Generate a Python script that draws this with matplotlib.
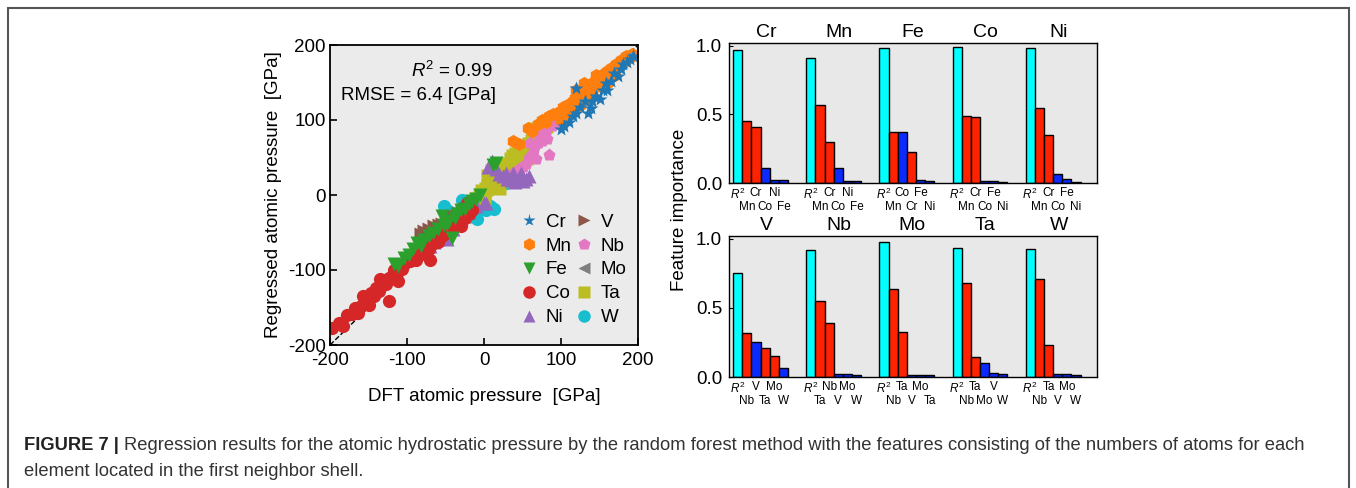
import numpy as np
import matplotlib
matplotlib.use("Agg")
import matplotlib.pyplot as plt
from matplotlib.patches import Rectangle

plt.rcParams['font.family'] = ['Liberation Sans', 'DejaVu Sans']
plt.rcParams['mathtext.fontset'] = 'custom'
plt.rcParams['mathtext.rm'] = 'Liberation Sans'
plt.rcParams['mathtext.it'] = 'Liberation Sans:italic'
plt.rcParams['axes.unicode_minus'] = False

# ---------------- scatter data (DFT, regressed) ----------------
elements = ['Cr', 'Mn', 'Fe', 'Co', 'Ni', 'V', 'Nb', 'Mo', 'Ta', 'W']
markers = ['*', 'h', 'v', 'o', '^', '>', 'p', '<', 's', 'o']

cr_pts = [(100, 88), (104, 92), (110, 97), (120, 110), (125, 118), (131, 125), (135, 110),
          (139, 116), (146, 132), (150, 128), (155, 140), (159, 150), (165, 152), (169, 163),
          (174, 159), (178, 168), (181, 175), (186, 178), (190, 182), (194, 186), (120, 143),
          (115, 105), (140, 125), (160, 140)]
mn_pts = [(38, 72), (45, 68), (57, 90), (62, 85), (70, 95), (75, 100), (80, 98), (85, 105),
          (90, 108), (95, 110), (100, 112), (103, 118), (108, 120), (112, 115), (115, 125),
          (118, 130), (122, 128), (125, 135), (128, 140), (132, 138), (135, 145), (138, 148),
          (142, 150), (145, 155), (148, 152), (152, 158), (155, 162), (158, 160), (160, 165),
          (163, 158), (165, 170), (168, 168), (172, 175), (175, 172), (178, 180), (182, 178),
          (185, 185), (188, 183), (192, 188), (140, 138), (150, 145), (160, 150), (120, 140),
          (130, 150), (100, 100), (110, 108), (170, 160), (155, 148), (145, 160), (135, 130),
          (125, 120)]
fe_pts = [(-117, -92), (-112, -95), (-104, -84), (-98, -80), (-92, -72), (-87, -64), (-82, -68),
          (-78, -60), (-72, -55), (-66, -50), (-60, -45), (-55, -28), (-52, -40), (-48, -39),
          (-45, -35), (-42, -57), (-38, -30), (-35, -25), (-30, -20), (-25, -18), (-20, -12),
          (-15, -8), (-10, -5), (16, 43), (12, 40), (-5, 0)]
co_pts = [(-197, -177), (-188, -170), (-183, -175), (-178, -160), (-172, -158), (-168, -150),
          (-163, -157), (-160, -148), (-157, -135), (-153, -142), (-150, -138), (-147, -130),
          (-143, -135), (-140, -124), (-137, -128), (-133, -120), (-130, -113), (-127, -118),
          (-124, -110), (-120, -108), (-117, -100), (-113, -104), (-110, -95), (-106, -98),
          (-103, -90), (-100, -86), (-96, -88), (-92, -80), (-88, -84), (-85, -76), (-80, -78),
          (-76, -70), (-72, -72), (-68, -65), (-64, -60), (-60, -62), (-55, -55), (-50, -50),
          (-45, -47), (-40, -42), (-35, -38), (-30, -41), (-25, -30), (-20, -25), (-15, -20),
          (-124, -141), (-150, -147), (-135, -112), (-112, -115), (-88, -86), (-70, -86),
          (-18, -21), (-22, -10)]
ni_pts = [(-80, -72), (-75, -66), (-70, -68), (-65, -62), (-60, -58), (-55, -50), (-48, -59),
          (-45, -48), (-40, -45), (-35, -38), (-30, -30), (-25, -28), (-20, -22), (-10, -15),
          (0, -10), (3, -10), (5, 38), (8, 39), (10, 45), (15, 35), (20, 28), (25, 25), (30, 22),
          (35, 20), (40, 18), (45, 22), (50, 19), (55, 22), (59, 25), (48, 30), (38, 30), (28, 30)]
v_pts = [(-82, -52), (-78, -48), (-75, -55), (-72, -45), (-68, -50), (-65, -41), (-62, -45),
         (-58, -40), (-55, -38), (-52, -42), (-48, -32), (-45, -35), (-42, -30), (-40, -28),
         (-36, -28), (-33, -24), (-31, -26), (-28, -22), (-25, -18), (-22, -17), (-20, -14)]
nb_pts = [(28, 22), (32, 25), (36, 28), (40, 30), (45, 35), (50, 38), (55, 41), (58, 50), (62, 55),
          (65, 62), (68, 48), (70, 70), (72, 79), (75, 72), (78, 80), (80, 85), (82, 75), (85, 54),
          (88, 92), (92, 96), (60, 70), (-55, -40), (-45, -38)]
mo_pts = [(-78, -52), (-74, -50), (-70, -55), (-67, -46), (-63, -48), (-60, -42), (-57, -44),
          (-54, -38), (-50, -40), (-47, -34), (-44, -36), (-40, -30), (-37, -32), (-34, -26),
          (-30, -24), (-27, -22), (-24, -18), (-20, -16), (-16, -12)]
ta_pts = [(-10, -5), (-5, 0), (-2, 5), (0, 3), (3, 8), (5, 12), (8, 15), (10, 20), (12, 25),
          (15, 18), (18, 28), (20, 32), (21, 34), (24, 30), (26, 38), (28, 35), (30, 42), (33, 40),
          (35, 48), (38, 52), (40, 45), (42, 55), (45, 50), (48, 58), (50, 62), (52, 55), (55, 65),
          (58, 68), (60, 60), (62, 72), (65, 75), (68, 88), (70, 78), (72, 82), (75, 85), (78, 90),
          (80, 92), (10, 32), (15, 40), (25, 20), (35, 30), (45, 42), (55, 50), (20, 10), (5, 25),
          (0, -5)]
w_pts = [(-52, -15), (-48, -20), (-29, -6), (-25, -10), (-9, -32), (-7, -15), (-3, -18), (2, -20),
         (8, -14), (10, -17), (13, -18), (29, 16), (25, 25), (20, 10), (-40, -25), (-15, -22),
         (35, 22)]

all_pts = [cr_pts, mn_pts, fe_pts, co_pts, ni_pts, v_pts, nb_pts, mo_pts, ta_pts, w_pts]

r2_text = 0.99
rmse_text = 6.4

# ---------------- feature importance data ----------------
top_titles = ['Cr', 'Mn', 'Fe', 'Co', 'Ni']
top_labels = [['R2', 'Mn', 'Cr', 'Co', 'Ni', 'Fe'],
              ['R2', 'Mn', 'Cr', 'Co', 'Ni', 'Fe'],
              ['R2', 'Mn', 'Co', 'Cr', 'Fe', 'Ni'],
              ['R2', 'Mn', 'Cr', 'Co', 'Fe', 'Ni'],
              ['R2', 'Mn', 'Cr', 'Co', 'Fe', 'Ni']]
top_values = [[0.966, 0.454, 0.410, 0.107, 0.022, 0.022],
              [0.912, 0.571, 0.298, 0.112, 0.012, 0.012],
              [0.980, 0.371, 0.371, 0.224, 0.022, 0.015],
              [0.993, 0.488, 0.480, 0.015, 0.012, 0.007],
              [0.985, 0.546, 0.351, 0.066, 0.029, 0.005]]
top_signs = [['r', '+', '+', '-', '-', '-'],
             ['r', '+', '+', '-', '-', '-'],
             ['r', '+', '-', '+', '-', '-'],
             ['r', '+', '+', '-', '-', '-'],
             ['r', '+', '+', '-', '-', '-']]

bot_titles = ['V', 'Nb', 'Mo', 'Ta', 'W']
bot_labels = [['R2', 'Nb', 'V', 'Ta', 'Mo', 'W'],
              ['R2', 'Ta', 'Nb', 'V', 'Mo', 'W'],
              ['R2', 'Nb', 'Ta', 'V', 'Mo', 'Ta'],
              ['R2', 'Nb', 'Ta', 'Mo', 'V', 'W'],
              ['R2', 'Nb', 'Ta', 'V', 'Mo', 'W']]
bot_values = [[0.752, 0.318, 0.255, 0.210, 0.154, 0.063],
              [0.920, 0.547, 0.393, 0.024, 0.019, 0.017],
              [0.978, 0.634, 0.325, 0.014, 0.012, 0.012],
              [0.935, 0.682, 0.147, 0.104, 0.031, 0.019],
              [0.928, 0.706, 0.234, 0.024, 0.020, 0.017]]
bot_signs = [['r', '+', '-', '+', '+', '-'],
             ['r', '+', '+', '-', '-', '-'],
             ['r', '+', '+', '-', '-', '-'],
             ['r', '+', '+', '-', '-', '-'],
             ['r', '+', '+', '-', '-', '-']]

caption_bold = "FIGURE 7 | "
caption_line1 = ("Regression results for the atomic hydrostatic pressure by the random forest method "
                 "with the features consisting of the numbers of atoms for each")
caption_line2 = "element located in the first neighbor shell."

# ---------------- figure ----------------
W, H = 1356, 488
fig = plt.figure(figsize=(W / 100, H / 100), dpi=100)
fig.patch.set_facecolor('white')


def fx(px):
    return px / W


def fy(py):
    return 1 - py / H


# outer frame
fig.patches.append(Rectangle((fx(8), -0.05), fx(1349) - fx(8), fy(8) + 0.05,
                             transform=fig.transFigure, fill=False,
                             edgecolor='#555555', linewidth=1.5))

# scatter axes
ax = fig.add_axes([fx(330), fy(345), fx(638) - fx(330), fy(45) - fy(345)])
ax.set_facecolor('#ebebeb')
palette = plt.get_cmap('tab10').colors
ax.plot([-200, 200], [-200, 200], ls='--', color='k', lw=1, zorder=1)
for i in reversed(range(len(elements))):
    pts = np.array(all_pts[i], dtype=float)
    ms = 10 if markers[i] == '*' else 9.5
    ax.plot(pts[:, 0], pts[:, 1], ls='none', marker=markers[i], ms=ms,
            color=palette[i], mec='none', zorder=2, label=elements[i])
handles, labels = ax.get_legend_handles_labels()
order = [labels.index(e) for e in elements]
leg = ax.legend([handles[k] for k in order], [labels[k] for k in order], ncol=2,
                loc='lower right', frameon=False, fontsize=13.5, handlelength=0.9,
                handletextpad=0.45, columnspacing=0.2, labelspacing=0.36,
                borderaxespad=0.2, bbox_to_anchor=(1.0, 0.025), markerscale=0.95)
ax.set_xlim(-200, 200)
ax.set_ylim(-200, 200)
ax.set_xticks([-200, -100, 0, 100, 200])
ax.set_yticks([-200, -100, 0, 100, 200])
ax.tick_params(direction='in', length=5, width=1.2, labelsize=13.5, pad=3)
ax.tick_params(axis='x', pad=5)
for sp in ax.spines.values():
    sp.set_linewidth(1.3)
ax.set_xlabel('DFT atomic pressure  [GPa]', fontsize=13.5, labelpad=14)
ax.set_ylabel('Regressed atomic pressure  [GPa]', fontsize=13.5, labelpad=4)
ax.text(0.395, 0.915, r'$R^2$ = %.2f' % r2_text, transform=ax.transAxes, fontsize=13.5,
        ha='center', va='center')
ax.text(0.035, 0.83, 'RMSE = %.1f [GPa]' % rmse_text, transform=ax.transAxes, fontsize=13.5,
        ha='left', va='center')

# bar panels
sign_colors = {'r': '#00ffff', '+': '#ff2200', '-': '#0a2aff'}


def bar_panel(rect, titles, labels, values, signs):
    bx = fig.add_axes(rect)
    bx.set_facecolor('#e8e8e8')
    for g in range(len(titles)):
        xs = np.arange(6) + g * 8
        cols = [sign_colors[s] for s in signs[g]]
        bx.bar(xs, values[g], width=1.0, align='edge', color=cols, edgecolor='black',
               linewidth=1.0, zorder=2)
        tr = bx.get_xaxis_transform()
        for j, lab in enumerate(labels[g]):
            txt = r'$R^2$' if lab == 'R2' else lab
            yy = -0.03 if j % 2 == 0 else -0.125
            bx.text(xs[j] + 0.5, yy, txt, transform=tr, ha='center', va='top', fontsize=8.5)
        bx.text(g * 8 + 3.6, 1.015, titles[g], transform=tr, ha='center', va='bottom',
                fontsize=14)
    bx.set_xlim(-0.45, 39.8)
    bx.set_ylim(0, 1.02)
    bx.set_xticks([])
    bx.set_yticks([0.0, 0.5, 1.0])
    bx.set_yticklabels(['0.0', '0.5', '1.0'])
    bx.tick_params(axis='y', direction='in', length=3, labelsize=13.5, pad=5)
    for sp in bx.spines.values():
        sp.set_linewidth(1.0)
    return bx


bar_panel([fx(729), fy(183), fx(1097) - fx(729), fy(43) - fy(183)],
          top_titles, top_labels, top_values, top_signs)
bar_panel([fx(729), fy(377), fx(1097) - fx(729), fy(236) - fy(377)],
          bot_titles, bot_labels, bot_values, bot_signs)
fig.text(fx(680), fy(210), 'Feature importance', rotation=90, ha='center', va='center',
         fontsize=13.5)

# caption
cap_fs = 13.2
t1 = fig.text(fx(24), fy(445), caption_bold, fontsize=cap_fs, fontweight='bold',
              ha='left', va='center', color='#222222')
fig.canvas.draw()
bb = t1.get_window_extent()
fig.text(bb.x1 / W, fy(445), caption_line1, fontsize=cap_fs, ha='left', va='center',
         color='#333333')
fig.text(fx(24), fy(471), caption_line2, fontsize=cap_fs, ha='left', va='center',
         color='#333333')

fig.savefig('out.png', dpi=100)
